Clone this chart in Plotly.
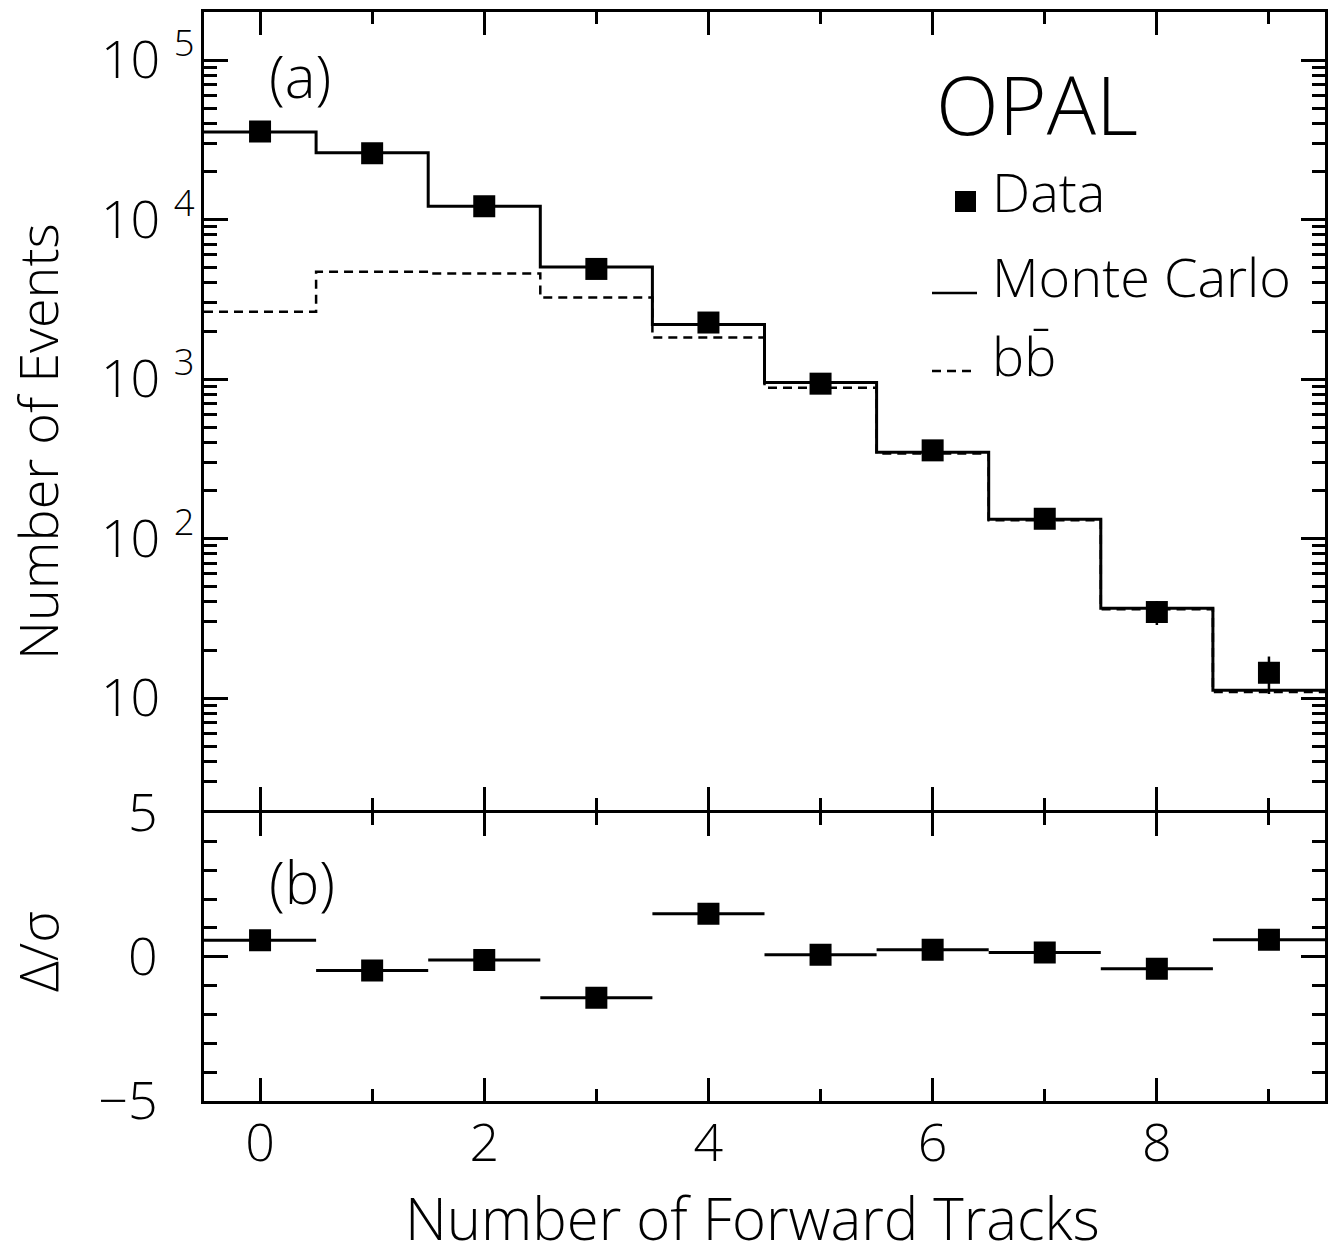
import plotly.graph_objects as go
import math

# ---------------- data ----------------
n_tracks = [0, 1, 2, 3, 4, 5, 6, 7, 8, 9]
bin_edges = [-0.5, 0.5, 1.5, 2.5, 3.5, 4.5, 5.5, 6.5, 7.5, 8.5, 9.5]
data_counts = [35600, 26000, 12100, 4900, 2260, 935, 357, 133, 34.6, 14.4]
data_err = [190, 160, 110, 70, 48, 31, 19, 11.5, 5.9, 3.8]
mc_counts = [35400, 26200, 12100, 5040, 2200, 952, 348, 132, 36.5, 11.2]
bb_counts = [2640, 4700, 4580, 3240, 1820, 880, 341, 130, 36, 10.9]
pull = [0.57, -0.48, -0.11, -1.42, 1.49, 0.07, 0.24, 0.15, -0.42, 0.59]

top_tickvals = [10, 100, 1000, 10000, 100000]
top_ticktext = ["10 <sup>\u2007</sup>", "10 <sup>2</sup>", "10 <sup>3</sup>",
                "10 <sup>4</sup>", "10 <sup>5</sup>"]
bot_tickvals = [-5, 0, 5]
bot_ticktext = ["\u22125", "0", "5"]
x_tickvals = [0, 2, 4, 6, 8]
x_ticktext = ["0", "2", "4", "6", "8"]

# ---------------- layout geometry ----------------
W, H = 1333, 1256
L, R, T, B = 204, 8, 12, 155
PW = W - L - R
PH = H - T - B
LW = 3  # frame line width

FONT = "Open Sans"
WEIGHT = 300


def px(x):
    return (x - L) / PW


def py(y):
    return (H - B - y) / PH


# panel boundary at page pixel 811; leave a gap of one line width so the
# two axis lines drawn there coincide
top_dom = [py(811 - LW / 2), 1]
bot_dom = [0, py(811 + LW / 2)]

fig = go.Figure()

# Monte Carlo histogram (solid)
fig.add_trace(go.Scatter(
    x=bin_edges, y=mc_counts + [mc_counts[-1]], mode="lines",
    line=dict(color="black", width=3, shape="hv"),
    xaxis="x", yaxis="y", showlegend=False, name="Monte Carlo"))

# b-bbar histogram (dashed)
fig.add_trace(go.Scatter(
    x=bin_edges, y=bb_counts + [bb_counts[-1]], mode="lines",
    line=dict(color="black", width=2.5, shape="hv", dash="9px,6px"),
    xaxis="x", yaxis="y", showlegend=False, name="bb"))

# Data points
fig.add_trace(go.Scatter(
    x=n_tracks, y=data_counts, mode="markers",
    marker=dict(symbol="square", size=22, color="black"),
    error_y=dict(type="data", array=data_err, visible=True, color="black",
                 thickness=2.5, width=0),
    xaxis="x", yaxis="y", showlegend=False, name="Data"))

# Pull panel
fig.add_trace(go.Scatter(
    x=n_tracks, y=pull, mode="markers",
    marker=dict(symbol="square", size=22, color="black"),
    error_x=dict(type="constant", value=0.5, visible=True, color="black",
                 thickness=3, width=0),
    xaxis="x2", yaxis="y2", showlegend=False, name="Delta/sigma"))

minor_log = [k * 10 ** e for e in range(0, 6) for k in range(2, 10)
             if 2 <= k * 10 ** e <= 2e5]

tickfont = dict(family=FONT, size=52, color="black", weight=WEIGHT)
axis_common = dict(showline=True, linewidth=LW, linecolor="black",
                   mirror="ticks", ticks="inside", tickwidth=3,
                   tickcolor="black", showgrid=False, zeroline=False,
                   automargin=False, tickfont=tickfont)

fig.update_layout(
    width=W, height=H,
    margin=dict(l=L, r=R, t=T, b=B, autoexpand=False),
    paper_bgcolor="white", plot_bgcolor="white",
    font=dict(family=FONT, color="black", weight=WEIGHT),
    xaxis=dict(domain=[0, 1], anchor="y", range=[-0.5, 9.5],
               tickvals=x_tickvals, ticklen=23, showticklabels=False,
               minor=dict(dtick=1, tick0=0, ticks="inside", ticklen=12,
                          tickwidth=2.5, tickcolor="black"),
               **axis_common),
    yaxis=dict(domain=top_dom, anchor="x", type="log",
               range=[math.log10(2), math.log10(2e5)],
               tickvals=top_tickvals, ticktext=top_ticktext, ticklen=24,
               ticklabelstandoff=-4,
               minor=dict(tickvals=minor_log, ticks="inside", ticklen=13,
                          tickwidth=2.5, tickcolor="black"),
               **axis_common),
    xaxis2=dict(domain=[0, 1], anchor="y2", range=[-0.5, 9.5],
                tickvals=x_tickvals, ticktext=x_ticktext, ticklen=23,
                ticklabelstandoff=-5,
                minor=dict(dtick=1, tick0=0, ticks="inside", ticklen=12,
                           tickwidth=2.5, tickcolor="black"),
                **axis_common),
    yaxis2=dict(domain=bot_dom, anchor="x2", range=[-5, 5],
                tickvals=bot_tickvals, ticktext=bot_ticktext, ticklen=24,
                ticklabelstandoff=33,
                minor=dict(dtick=1, tick0=0, ticks="inside", ticklen=13,
                           tickwidth=2.5, tickcolor="black"),
                **axis_common),
)

# ---------------- text ----------------
def ann(text, x, y, size, xanchor="center", yanchor="middle", angle=0):
    fig.add_annotation(text=text, x=px(x), y=py(y), xref="paper", yref="paper",
                       xanchor=xanchor, yanchor=yanchor, showarrow=False,
                       textangle=angle,
                       font=dict(family=FONT, size=size, color="black",
                                 weight=WEIGHT))


ann("(a)", 300, 76, 58)
ann("(b)", 302, 881, 58)
ann("OPAL", 1037, 103, 82)
ann("Data", 990, 191, 54, xanchor="left")
ann("Monte Carlo", 990, 276, 54, xanchor="left")
ann("bb\u0304", 990, 355, 54, xanchor="left")
ann("Number of Events", 37, 442, 54, angle=-90)
ann("\u0394/\u03c3", 37, 952, 54, angle=-90)
ann("Number of Forward Tracks", 752, 1217, 58)

# legend keys
fig.add_shape(type="rect", xref="paper", yref="paper",
              x0=px(955), x1=px(976), y0=py(212), y1=py(191),
              fillcolor="black", line=dict(color="black", width=0))
fig.add_shape(type="line", xref="paper", yref="paper",
              x0=px(932), x1=px(977), y0=py(293), y1=py(293),
              line=dict(color="black", width=2.5))
fig.add_shape(type="line", xref="paper", yref="paper",
              x0=px(932), x1=px(977), y0=py(371), y1=py(371),
              line=dict(color="black", width=2.5, dash="9px,6px"))

fig.write_html("out.html")
